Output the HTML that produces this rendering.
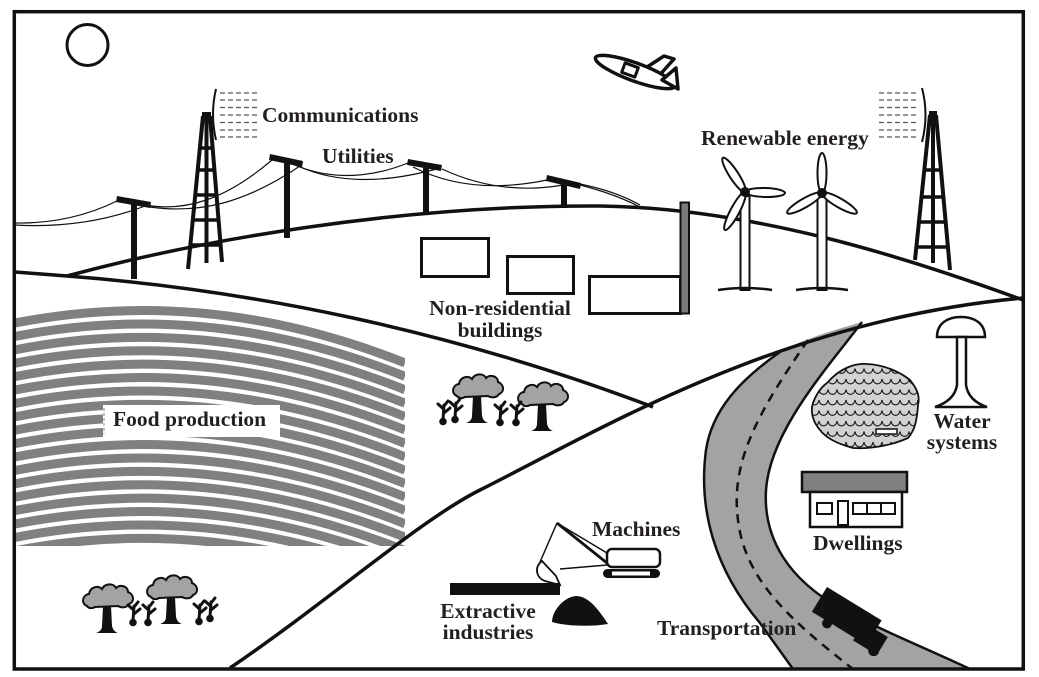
<!DOCTYPE html>
<html><head><meta charset="utf-8"><style>
html,body{margin:0;padding:0;background:#fff;}
svg{display:block;}
text{font-family:"Liberation Serif",serif;font-weight:bold;font-size:21.5px;fill:#231f20;}
</style></head><body>
<svg width="1039" height="677" viewBox="0 0 1039 677" xmlns="http://www.w3.org/2000/svg">
<defs>
  <clipPath id="fieldclip"><rect x="15" y="300" width="390" height="246"/></clipPath>
  <clipPath id="lakeclip"><path d="M827,383 C 840,368 855,363 867,364 C 885,365 900,372 910,380 C 918,390 920,397 918,405 C 917,420 915,430 908,438 C 890,446 870,449 853,448 C 838,444 826,438 820,430 C 813,422 810,412 813,403 C 816,395 820,388 827,383 Z"/></clipPath>
  <pattern id="waves" x="0" y="366" width="9" height="10.5" patternUnits="userSpaceOnUse">
    <path d="M0,2.5 C 1,9 8,9 9,2.5" fill="none" stroke="#222" stroke-width="1.2"/>
  </pattern>
  <g id="tree">
    <path d="M4,24 C -2,22 -1,13 6,12 C 7,5 15,3 19,7 C 22,1 31,1 33,6 C 37,2 45,4 45,10 C 51,12 52,20 46,22 C 44,26 38,26 35,24 L 12,25 C 9,27 5,26 4,24 Z" fill="#a3a3a3" stroke="#111" stroke-width="2"/>
    <path d="M20,24 L28,24 L29,44 C 30,48 32,50 35,51 L13,51 C 16,50 19,48 19,44 Z" fill="#111"/>
  </g>
  <g id="sprig">
    <circle cx="0" cy="-3.5" r="3.8" fill="#111"/>
    <path d="M0,-5 L1,-20 M1,-12 L7,-17 M0.5,-16 L-5,-21 M1,-19 L5,-24" stroke="#111" stroke-width="3" fill="none" stroke-linecap="round"/>
  </g>
</defs>

<rect width="1039" height="677" fill="#fff"/>

<!-- sun -->
<circle cx="87.5" cy="45" r="20.5" fill="none" stroke="#111" stroke-width="3"/>

<!-- airplane -->
<g fill="#fff" stroke="#111" stroke-width="3.5" stroke-linejoin="round">
  <path d="M641,71 L664,56 L674,59 L656,79 Z"/>
  <ellipse cx="635" cy="72" rx="42" ry="9" transform="rotate(20 635 72)"/>
  <path d="M662,80 L676,68 L678,89 Z"/>
  <rect x="623" y="65" width="14" height="10" transform="rotate(20 630 70)" stroke-width="3"/>
</g>

<!-- wires -->
<g fill="none" stroke="#111" stroke-width="1.2">
  <path d="M15,223 Q 70,224 117,201"/>
  <path d="M15,225 Q 85,229 145,206"/>
  <path d="M145,205 C 185,212 225,200 272,160"/>
  <path d="M150,207 C 200,214 245,203 300,166"/>
  <path d="M290,163 Q 345,188 408,163"/>
  <path d="M298,166 Q 355,192 440,168"/>
  <path d="M413,167 Q 470,196 547,180"/>
  <path d="M442,169 Q 500,196 563,185"/>
  <path d="M563,181 Q 610,188 640,205"/>
  <path d="M580,185 Q 615,194 640,207"/>
</g>

<!-- utility poles -->
<g fill="#111">
  <rect x="131" y="201" width="6" height="78"/>
  <path d="M117,196 L151,202 L150,208 L116,202 Z"/>
  <rect x="284" y="160" width="6" height="78"/>
  <path d="M270,154 L303,161 L302,167 L269,160 Z"/>
  <rect x="423" y="164" width="6" height="49"/>
  <path d="M408,159 L442,165 L441,171 L407,165 Z"/>
  <rect x="561" y="180" width="6" height="28"/>
  <path d="M547,175 L581,183 L580,189 L546,181 Z"/>
</g>

<!-- lattice tower 1 -->
<g stroke="#111" stroke-width="4" fill="none">
  <path d="M203,116 L188,269 M210,116 L222,262 M206.5,116 L206.5,263"/>
  <path d="M200,148 L214,148 M198,170 L216,170 M196,195 L218,195 M193,220 L219,220 M191,245 L221,245" stroke-width="3.5"/>
</g>
<rect x="202" y="112" width="9" height="5" fill="#111"/>
<path d="M216,89 Q 210,114 216,140" fill="none" stroke="#111" stroke-width="2"/>
<g stroke="#555" stroke-width="1.2" stroke-dasharray="5 3">
  <path d="M220,93 H260 M220,100 H260 M220,107.5 H260 M220,115 H260 M220,122.5 H260 M220,130 H260 M220,137 H260"/>
</g>

<!-- lattice tower 2 -->
<g stroke="#111" stroke-width="4" fill="none">
  <path d="M930,115 L915,260 M936,115 L950,270 M933,115 L933,263"/>
  <path d="M925,170 L941,170 M922,197 L944,197 M920,222 L946,222 M918,247 L948,247" stroke-width="3.5"/>
</g>
<rect x="929" y="111" width="8" height="5" fill="#111"/>
<path d="M922,88 Q 929,115 922,142" fill="none" stroke="#111" stroke-width="2"/>
<g stroke="#555" stroke-width="1.2" stroke-dasharray="5 3">
  <path d="M879,93 H919 M879,100 H919 M879,107.5 H919 M879,115 H919 M879,122.5 H919 M879,130 H919 M879,137 H919"/>
</g>

<!-- hills -->
<g fill="none" stroke="#111" stroke-width="3.5" stroke-linejoin="round">
  <path d="M67,276 C 200,240 400,205 600,206 C 750,208 900,255 1023,300"/>
  <path d="M15,272 L67,276 C 250,290 450,330 653,407"/>
</g>

<!-- wind turbines -->
<g stroke="#111" stroke-width="2" fill="#fff">
  <rect x="740.5" y="196" width="9" height="94"/>
  <path d="M718,290 Q745,286 772,290" fill="none" stroke-width="2.5"/>
  <ellipse cx="734" cy="175" rx="20.5" ry="4.5" transform="rotate(-123 734 175)"/>
  <ellipse cx="765" cy="192.5" rx="20" ry="4.5" transform="rotate(1.4 765 192.5)"/>
  <ellipse cx="735" cy="211" rx="21.5" ry="4.5" transform="rotate(118 735 211)"/>
  <rect x="817.5" y="197" width="9" height="93"/>
  <path d="M796,290 Q822,286 848,290" fill="none" stroke-width="2.5"/>
  <ellipse cx="822" cy="173" rx="20" ry="4.5" transform="rotate(-90 822 173)"/>
  <ellipse cx="804.5" cy="203" rx="20" ry="4.5" transform="rotate(150 804.5 203)"/>
  <ellipse cx="839.5" cy="203" rx="20" ry="4.5" transform="rotate(30 839.5 203)"/>
</g>
<circle cx="745" cy="192" r="5" fill="#111"/>
<circle cx="822" cy="193" r="5" fill="#111"/>

<!-- non-residential buildings -->
<g fill="#fff" stroke="#111" stroke-width="3">
  <rect x="421.5" y="238.5" width="67" height="38"/>
  <rect x="507.5" y="256.5" width="66" height="37"/>
  <rect x="589.5" y="276.5" width="91" height="37"/>
</g>
<rect x="680.5" y="202.5" width="8.5" height="111" fill="#7a7a7a" stroke="#111" stroke-width="2"/>

<!-- food production stripes -->
<g clip-path="url(#fieldclip)" fill="none" stroke="#808080" stroke-width="9">
  <path d="M15,323 Q210,285 405,363"/>
  <path d="M15,336.4 Q210,298.4 405,376.4"/>
  <path d="M15,349.8 Q210,311.8 405,389.8"/>
  <path d="M15,363.2 Q210,325.2 405,403.2"/>
  <path d="M15,376.6 Q210,338.6 405,416.6"/>
  <path d="M15,390 Q210,352 405,430"/>
  <path d="M15,403.4 Q210,365.4 405,443.4"/>
  <path d="M15,416.8 Q210,378.8 405,456.8"/>
  <path d="M15,430.2 Q210,392.2 405,470.2"/>
  <path d="M15,443.6 Q210,405.6 405,483.6"/>
  <path d="M15,457 Q210,419 405,497"/>
  <path d="M15,470.4 Q210,432.4 405,510.4"/>
  <path d="M15,483.8 Q210,445.8 405,523.8"/>
  <path d="M15,497.2 Q210,459.2 405,537.2"/>
  <path d="M15,510.6 Q210,472.6 405,550.6"/>
  <path d="M15,524 Q210,486 405,564"/>
  <path d="M15,537.4 Q210,499.4 405,577.4"/>
  <path d="M15,550.8 Q210,512.8 405,590.8"/>
</g>
<rect x="103" y="405" width="177" height="32" fill="#fff"/>
<path d="M104,408 V434" stroke="#888" stroke-width="1" stroke-dasharray="3 2"/>

<!-- road -->
<path d="M780,352 C 740,380 712,410 706,450 C 698,510 715,570 760,623 L793,669 L970,669 C 930,650 880,630 840,608 C 790,580 763,540 766,490 C 770,430 830,365 862,322 C 835,330 805,338 780,352 Z" fill="#a3a3a3"/>
<g fill="none" stroke="#111" stroke-width="2.5">
  <path d="M780,352 C 740,380 712,410 706,450 C 698,510 715,570 760,623 L793,669"/>
  <path d="M862,322 C 830,365 770,430 766,490 C 763,540 790,580 840,608 C 880,630 930,650 970,669"/>
</g>
<path d="M808,340 C 760,410 730,460 738,520 C 745,580 790,620 853,669" fill="none" stroke="#111" stroke-width="2.5" stroke-dasharray="9 7"/>

<!-- diagonal hill line -->
<path d="M230,668 C 330,600 420,520 480,490 C 600,430 780,320 1023,298" fill="none" stroke="#111" stroke-width="3.5"/>

<!-- truck -->
<g transform="translate(827,587) rotate(31.4)" fill="#111">
  <rect x="0" y="0" width="64" height="29"/>
  <rect x="50" y="11" width="28" height="21"/>
  <circle cx="19" cy="31" r="5"/>
  <circle cx="73" cy="30" r="5.5"/>
</g>

<!-- lake -->
<path d="M827,383 C 840,368 855,363 867,364 C 885,365 900,372 910,380 C 918,390 920,397 918,405 C 917,420 915,430 908,438 C 890,446 870,449 853,448 C 838,444 826,438 820,430 C 813,422 810,412 813,403 C 816,395 820,388 827,383 Z" fill="#d2d2d2"/>
<rect x="805" y="355" width="120" height="100" fill="url(#waves)" clip-path="url(#lakeclip)"/>
<path d="M827,383 C 840,368 855,363 867,364 C 885,365 900,372 910,380 C 918,390 920,397 918,405 C 917,420 915,430 908,438 C 890,446 870,449 853,448 C 838,444 826,438 820,430 C 813,422 810,412 813,403 C 816,395 820,388 827,383 Z" fill="none" stroke="#111" stroke-width="1.8"/>
<rect x="876" y="429" width="21" height="5" fill="#fff" stroke="#111" stroke-width="1.5"/>

<!-- water tower -->
<path d="M937,337 C 937,323 948,317 961,317 C 974,317 985,323 985,337 Z" fill="#fff" stroke="#111" stroke-width="2.5"/>
<path d="M957,337 L966,337 L966,385 C 968,398 978,404 987,407 L935,407 C 944,404 955,398 957,385 Z" fill="#fff" stroke="#111" stroke-width="2.5"/>

<!-- dwelling -->
<rect x="802" y="472" width="105" height="20" fill="#808080" stroke="#111" stroke-width="2.5"/>
<rect x="810" y="492" width="92" height="35" fill="#fff" stroke="#111" stroke-width="2.5"/>
<g fill="#fff" stroke="#111" stroke-width="2">
  <rect x="817" y="503" width="15" height="11"/>
  <rect x="838" y="501" width="10" height="24"/>
  <rect x="853" y="503" width="42" height="11"/>
  <path d="M867,503 V514 M881,503 V514"/>
</g>

<!-- excavator -->
<g stroke="#111" fill="none">
  <path d="M557,523 L607,553" stroke-width="1.5"/>
  <path d="M557,523 L612,567" stroke-width="2.8"/>
  <path d="M557,523 L540,562" stroke-width="1.5"/>
  <path d="M560,569 L607,565" stroke-width="1.5"/>
</g>
<path d="M542,561 C 534,567 536,578 545,581 L560,585 L556,576 Z" fill="#fff" stroke="#111" stroke-width="1.8"/>
<rect x="607" y="549" width="53" height="18" rx="5" fill="#fff" stroke="#111" stroke-width="2.5"/>
<rect x="603" y="569" width="57" height="9" rx="4.5" fill="#111"/>
<rect x="612" y="571.5" width="38" height="4" fill="#fff"/>
<rect x="450" y="583" width="110" height="12" fill="#111"/>
<path d="M552,622 C 552,610 565,596 577,596 C 590,597 600,612 608,624 C 590,627 565,626 552,622 Z" fill="#111"/>

<!-- trees -->
<use href="#tree" x="83" y="582"/>
<use href="#tree" x="147" y="573"/>
<use href="#tree" x="453" y="372"/>
<use href="#tree" x="518" y="380"/>
<use href="#sprig" x="133" y="626"/>
<use href="#sprig" x="148" y="626"/>
<use href="#sprig" x="199" y="625"/>
<use href="#sprig" x="210" y="622"/>
<use href="#sprig" x="443" y="425"/>
<use href="#sprig" x="455" y="423"/>
<use href="#sprig" x="500" y="426"/>
<use href="#sprig" x="516" y="426"/>

<!-- frame -->
<rect x="14.3" y="11.7" width="1009" height="657.3" fill="none" stroke="#111" stroke-width="3.5"/>

<!-- labels -->
<text x="262" y="122">Communications</text>
<text x="322" y="163">Utilities</text>
<text x="701" y="145">Renewable energy</text>
<text x="500" y="315" text-anchor="middle">Non-residential</text>
<text x="500" y="337" text-anchor="middle">buildings</text>
<text x="113" y="426">Food production</text>
<text x="592" y="536">Machines</text>
<text x="488" y="618" text-anchor="middle">Extractive</text>
<text x="488" y="639" text-anchor="middle">industries</text>
<text x="657" y="635">Transportation</text>
<text x="962" y="428" text-anchor="middle">Water</text>
<text x="962" y="449" text-anchor="middle">systems</text>
<text x="813" y="550">Dwellings</text>
</svg>
</body></html>
